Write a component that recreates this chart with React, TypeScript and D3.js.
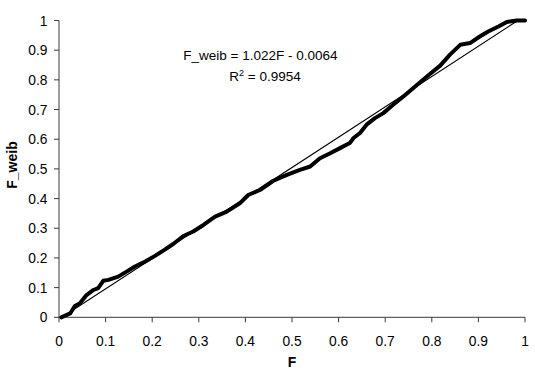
import React from "react";
import * as d3 from "d3";

const W = 535;
const H = 376;

// Observed points (F, F_weib)
const F_VALUES = [0.005, 0.024, 0.034, 0.045, 0.059, 0.074, 0.084, 0.095, 0.106, 0.127, 0.145, 0.163, 0.185, 0.206, 0.227, 0.245, 0.267, 0.288, 0.31, 0.335, 0.36, 0.388, 0.406, 0.431, 0.46, 0.489, 0.517, 0.539, 0.56, 0.582, 0.603, 0.624, 0.632, 0.646, 0.66, 0.678, 0.696, 0.717, 0.739, 0.768, 0.796, 0.818, 0.839, 0.861, 0.882, 0.903, 0.921, 0.943, 0.961, 0.982, 1.0];
const FWEIB_VALUES = [0, 0.013, 0.038, 0.047, 0.075, 0.092, 0.098, 0.123, 0.126, 0.137, 0.154, 0.171, 0.188, 0.207, 0.228, 0.247, 0.274, 0.289, 0.311, 0.339, 0.356, 0.384, 0.412, 0.429, 0.46, 0.48, 0.497, 0.508, 0.536, 0.553, 0.57, 0.587, 0.604, 0.621, 0.649, 0.671, 0.688, 0.716, 0.744, 0.783, 0.82, 0.848, 0.885, 0.918, 0.924, 0.946, 0.963, 0.98, 0.995, 1.0, 1.0];

const TREND_SLOPE = 1.022;
const TREND_INTERCEPT = -0.0064;

const TICKS = [0, 0.1, 0.2, 0.3, 0.4, 0.5, 0.6, 0.7, 0.8, 0.9, 1];
const TICK_LABELS = ["0", "0.1", "0.2", "0.3", "0.4", "0.5", "0.6", "0.7", "0.8", "0.9", "1"];

const FONT = "'Liberation Sans', Arial, sans-serif";

export default function App() {
  const x = d3.scaleLinear().domain([0, 1]).range([59, 525]);
  const y = d3.scaleLinear().domain([0, 1]).range([317.3, 20.5]);

  const pts: [number, number][] = F_VALUES.map((f, i) => [f, FWEIB_VALUES[i]]);
  const line = d3
    .line<[number, number]>()
    .x((d) => x(d[0]))
    .y((d) => y(d[1]));

  const fStart = -TREND_INTERCEPT / TREND_SLOPE;
  const fEnd = (1 - TREND_INTERCEPT) / TREND_SLOPE;
  const trend: [number, number][] = [
    [fStart, TREND_SLOPE * fStart + TREND_INTERCEPT],
    [fEnd, TREND_SLOPE * fEnd + TREND_INTERCEPT],
  ];

  const axisColor = "#3a3a3a";

  return (
    <svg
      width={W}
      height={H}
      style={{ position: "absolute", left: 0, top: 0, background: "#fff" }}
      fontFamily={FONT}
    >
      <rect x={0} y={0} width={W} height={H} fill="#fff" />
      {/* axes */}
      <line x1={x(0)} x2={x(0)} y1={y(0)} y2={y(1)} stroke={axisColor} strokeWidth={1} />
      <line x1={x(0)} x2={x(1)} y1={y(0)} y2={y(0)} stroke={axisColor} strokeWidth={1} />
      {TICKS.map((t, i) => (
        <g key={"y" + i}>
          <line x1={x(0) - 5} x2={x(0)} y1={y(t)} y2={y(t)} stroke={axisColor} />
          <text x={47.5} y={y(t) + 5} textAnchor="end" fontSize={13.8} fill="#000">
            {TICK_LABELS[i]}
          </text>
        </g>
      ))}
      {TICKS.map((t, i) => (
        <g key={"x" + i}>
          <line x1={x(t)} x2={x(t)} y1={y(0)} y2={y(0) + 5} stroke={axisColor} />
          <text x={x(t)} y={345.5} textAnchor="middle" fontSize={13.8} fill="#000">
            {TICK_LABELS[i]}
          </text>
        </g>
      ))}
      {/* trendline */}
      <path d={line(trend) || ""} fill="none" stroke="#000" strokeWidth={1.1} />
      {/* data */}
      <path
        d={line(pts) || ""}
        fill="none"
        stroke="#000"
        strokeWidth={4}
        strokeLinejoin="round"
        strokeLinecap="round"
      />
      {/* equation */}
      <text x={183.3} y={59.7} fontSize={13.5} fill="#000">
        F_weib = 1.022F - 0.0064
      </text>
      <text x={229.3} y={81.3} fontSize={13.5} fill="#000">
        R<tspan dy={-5} fontSize={9}>2</tspan>
        <tspan dy={5}> = 0.9954</tspan>
      </text>
      {/* axis titles */}
      <text x={292} y={367} textAnchor="middle" fontSize={14} fontWeight="bold" fill="#000">
        F
      </text>
      <text
        transform={`translate(17, 165) rotate(-90)`}
        textAnchor="middle"
        fontSize={14}
        fontWeight="bold"
        fill="#000"
      >
        F_weib
      </text>
    </svg>
  );
}
